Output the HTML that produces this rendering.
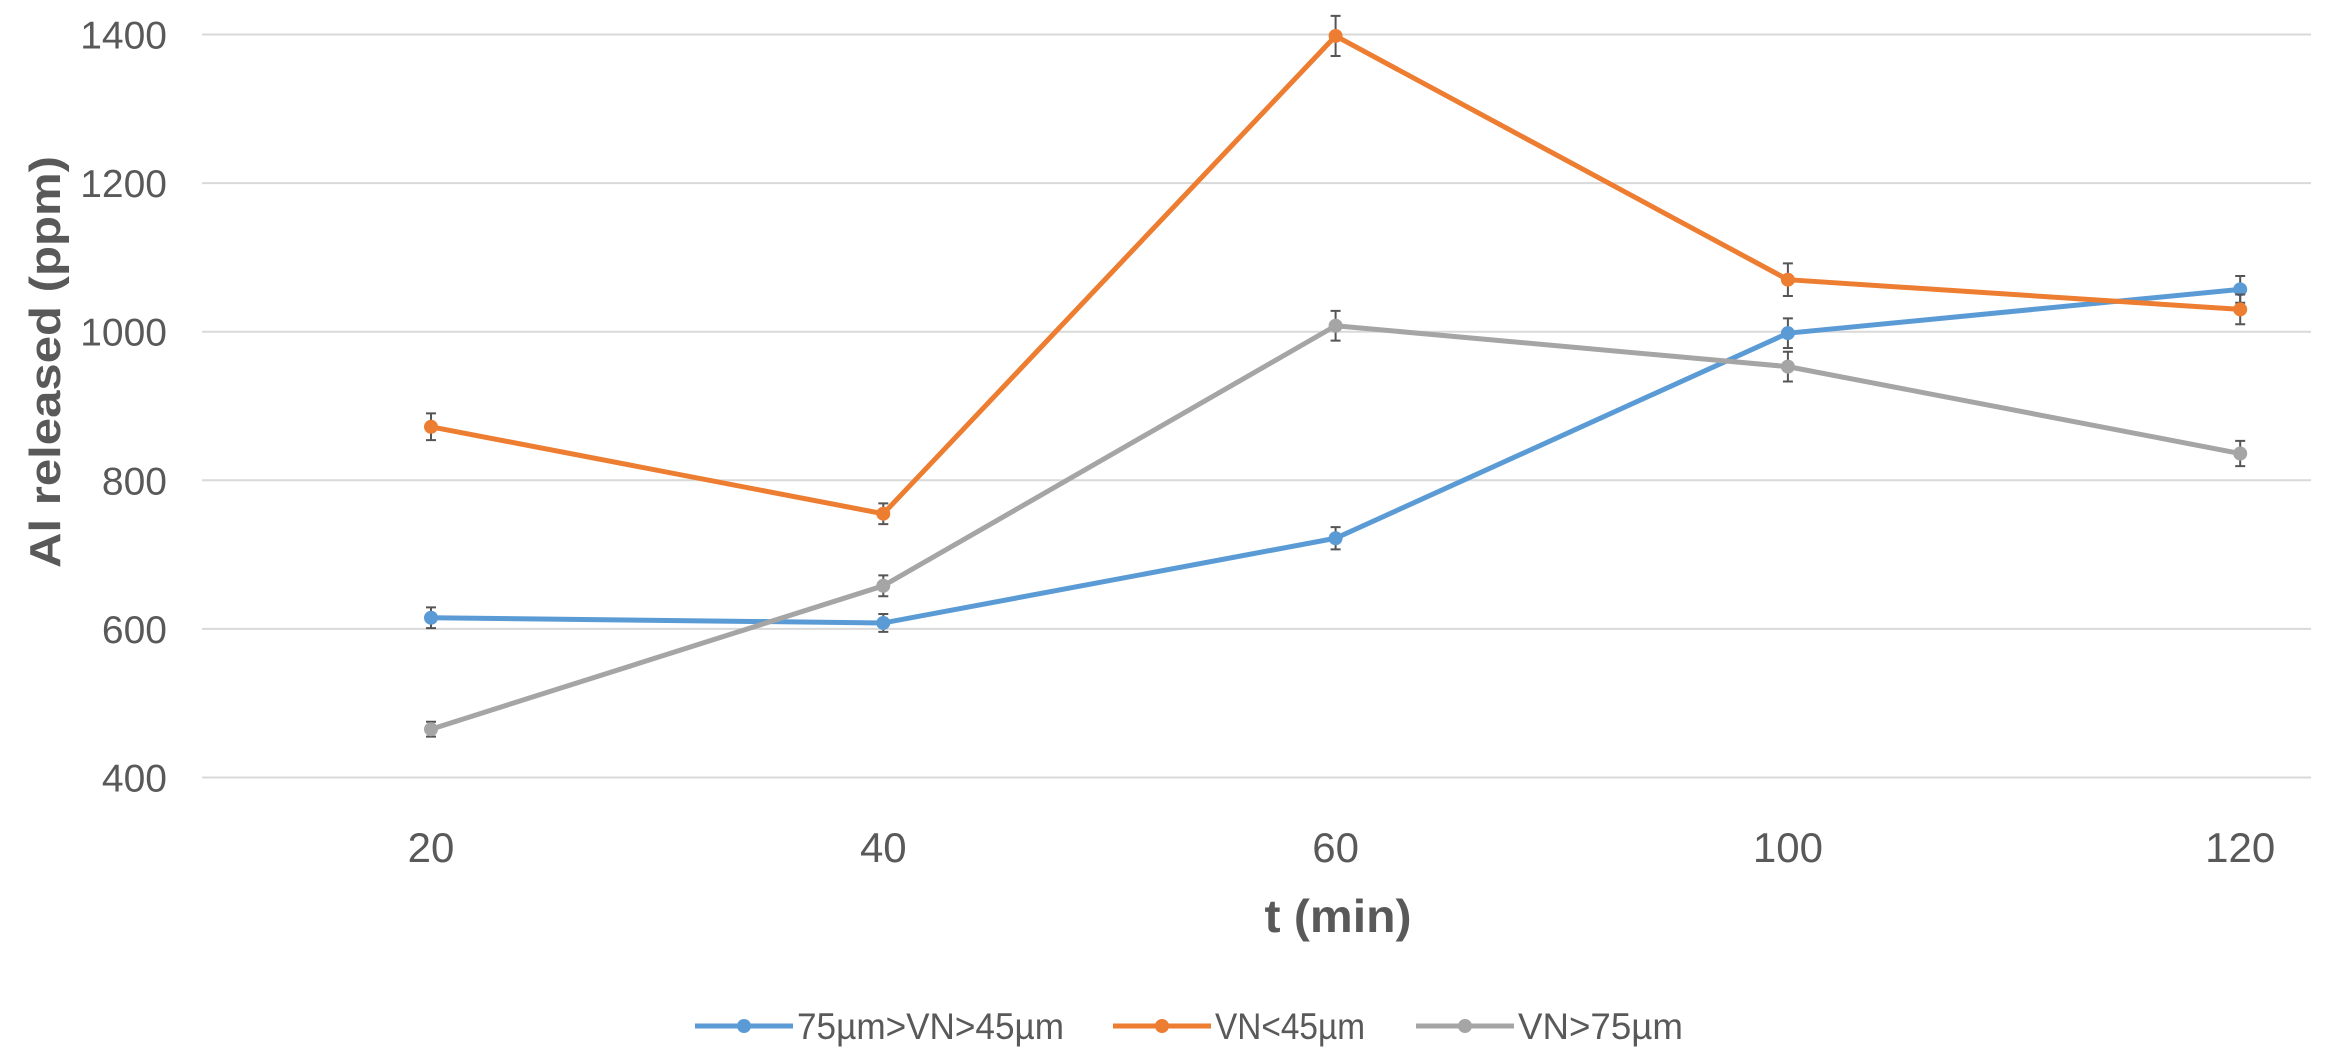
<!DOCTYPE html>
<html><head><meta charset="utf-8"><style>
html,body{margin:0;padding:0;background:#fff;}
svg{display:block;font-family:"Liberation Sans",sans-serif;}
</style></head><body>
<svg id="chart" width="2349" height="1059" viewBox="0 0 2349 1059">
<g id="grid"></g>
<g id="yticks"></g>
<g id="xticks"></g>
<g id="series"></g>
<text x="0" y="0" transform="translate(60,362) rotate(-90)" text-anchor="middle" font-size="44" font-weight="bold" fill="#595959" textLength="412" lengthAdjust="spacingAndGlyphs">Al released (ppm)</text>
<text x="1338" y="932" text-anchor="middle" font-size="46" font-weight="bold" fill="#595959" textLength="147" lengthAdjust="spacingAndGlyphs">t (min)</text>
<g id="legend"></g>
</svg>
<script>
const categories = ["20","40","60","100","120"];
const yTicks = [400,600,800,1000,1200,1400];
const seriesNames = ["75µm>VN>45µm","VN<45µm","VN>75µm"];
const blueValues = [615,608,722,998,1057];
const orangeValues = [872,755,1398,1070,1030];
const grayValues = [465,658,1008,953,836];
const blueErr = [14,12,15,20,18];
const orangeErr = [18,14,27,22,20];
const grayErr = [10,14,20,20,17];
const colors = ["#5B9BD5","#ED7D31","#A5A5A5"];

const NS="http://www.w3.org/2000/svg";
const yMin=400,yMax=1400,yTop=34.5,yBot=777.5;
const plotL=202,plotR=2311;
function yScale(v){return yBot-(v-yMin)/(yMax-yMin)*(yBot-yTop);}
function xScale(i){return 431+i*452.3;}
function mk(tag,attrs,parent){const e=document.createElementNS(NS,tag);for(const k in attrs)e.setAttribute(k,attrs[k]);parent.appendChild(e);return e;}

const grid=document.getElementById('grid'),yt=document.getElementById('yticks'),xt=document.getElementById('xticks');
yTicks.forEach(v=>{
  const l=mk('line',{x1:plotL,x2:plotR,y1:yScale(v),y2:yScale(v),stroke:'#d9d9d9','stroke-width':2},grid);
  
  
  const t=mk('text',{x:167,y:yScale(v)+14,'text-anchor':'end','font-size':39,fill:'#595959'},yt);
  t.textContent=v;
  
  
});
categories.forEach((c,i)=>{
  const t=mk('text',{x:xScale(i),y:862,'text-anchor':'middle','font-size':42,fill:'#595959'},xt);
  t.textContent=c;
  
  
});
const sg=document.getElementById('series');
[[blueValues,blueErr],[orangeValues,orangeErr],[grayValues,grayErr]].forEach((pair,s)=>{
  const vals=pair[0],err=pair[1];
  const g=mk('g',{},sg);
  
  
  const pts=vals.map((v,i)=>xScale(i)+','+yScale(v)).join(' ');
  const pl=mk('polyline',{points:pts,fill:'none',stroke:colors[s],'stroke-width':5,'stroke-linejoin':'round'},g);
  
  
  vals.forEach((v,i)=>{
    const x=xScale(i),y1=yScale(v+err[i]),y2=yScale(v-err[i]);
    const eb=mk('path',{d:`M${x},${y1}V${y2}M${x-5},${y1}H${x+5}M${x-5},${y2}H${x+5}`,stroke:'#555','stroke-width':2,fill:'none'},g);
    
    
    const c=mk('circle',{cx:x,cy:yScale(v),r:7,fill:colors[s]},g);
    
    
  });
});
const lg=document.getElementById('legend');
const legX=[695,1113,1416];
const legW=[267,150,165];
seriesNames.forEach((n,s)=>{
  const g=mk('g',{},lg);
  
  
  mk('line',{x1:legX[s],x2:legX[s]+98,y1:1026,y2:1026,stroke:colors[s],'stroke-width':5},g);
  mk('circle',{cx:legX[s]+49,cy:1026,r:7,fill:colors[s]},g);
  const t=mk('text',{x:legX[s]+102,y:1039,'font-size':37,fill:'#595959',textLength:legW[s],lengthAdjust:'spacingAndGlyphs'},g);
  t.textContent=n;
});
</script>
</body></html>
